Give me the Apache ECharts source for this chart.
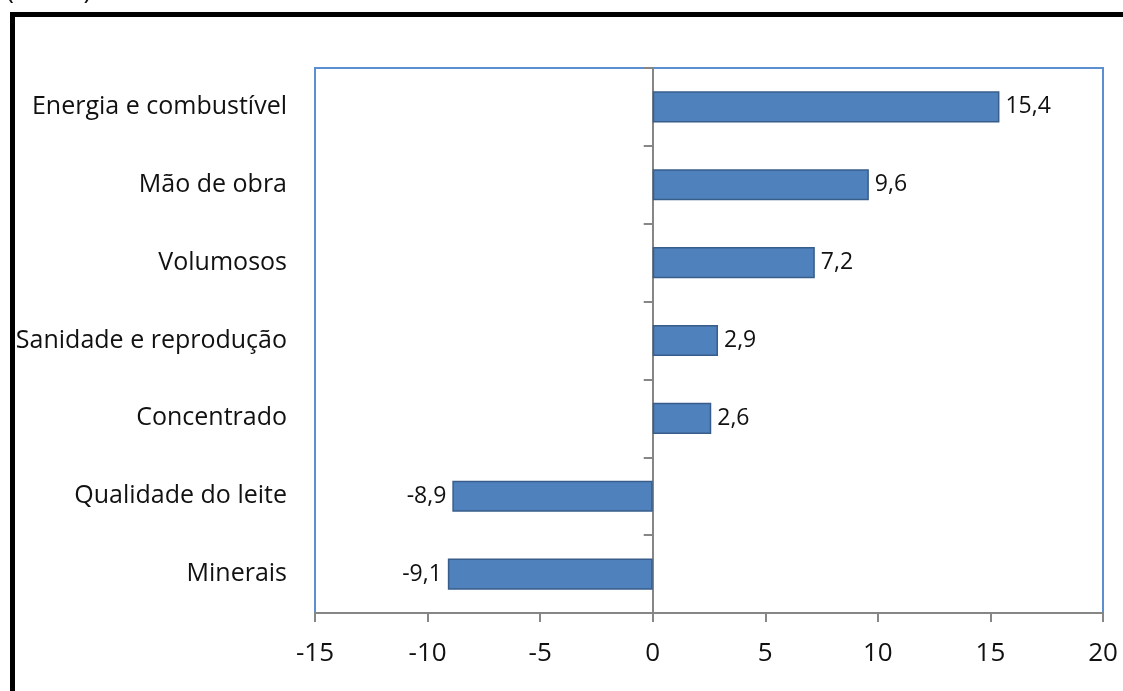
<!DOCTYPE html>
<html><head><meta charset="utf-8">
<script src="https://cdn.jsdelivr.net/npm/echarts@6/dist/echarts.min.js"></script>
<style>html,body{margin:0;padding:0;background:#fff}#c{width:1123px;height:691px}</style>
</head><body><div id="c"></div>
<script>
const categories = ["Energia e combustível","Mão de obra","Volumosos","Sanidade e reprodução","Concentrado","Qualidade do leite","Minerais"];
const values = [15.4, 9.6, 7.2, 2.9, 2.6, -8.9, -9.1];
const xTicks = {min:-15, max:20, interval:5};
const FONT = "Open Sans";
const TXT = '#111';
const chart = echarts.init(document.getElementById('c'));
chart.setOption({
  animation:false,
  textStyle:{fontFamily:FONT},
  graphic:[
    {type:'rect', shape:{x:12.5, y:14.5, width:1130, height:700}, style:{fill:'none', stroke:'#000', lineWidth:5}},
    {type:'text', left:6, top:-22, style:{text:'(em %)', font:'27px "'+FONT+'"', fill:TXT}}
  ],
  grid:{left:315, right:20, top:68, bottom:78, containLabel:false, outerBoundsMode:'none',
    show:true, borderColor:'#5b8fd0', borderWidth:2, backgroundColor:'#fff'},
  xAxis:{type:'value', min:xTicks.min, max:xTicks.max, interval:xTicks.interval,
    splitLine:{show:false},
    axisLine:{show:true, onZero:false, lineStyle:{color:'#868686', width:2}},
    axisTick:{show:true, length:9, lineStyle:{color:'#868686', width:2}},
    axisLabel:{color:TXT, fontSize:26, margin:28, fontFamily:FONT}
  },
  yAxis:{type:'category', data:categories, inverse:true,
    axisLine:{show:true, onZero:true, lineStyle:{color:'#868686', width:2}},
    axisTick:{show:true, length:9, lineStyle:{color:'#868686', width:2}},
    axisLabel:{color:TXT, fontSize:25, margin:28, fontFamily:FONT}
  },
  series:[{type:'bar', barWidth:'40%',
    data:values.map(v=>({value:v, label:{position: v<0?'left':'right'}})),
    itemStyle:{color:'#4f81bd', borderColor:'#385d8a', borderWidth:1.5},
    label:{show:true, color:TXT, fontSize:23, fontFamily:FONT, distance:6,
      formatter:p=>String(p.value).replace('.',',')}
  }]
});
</script></body></html>
